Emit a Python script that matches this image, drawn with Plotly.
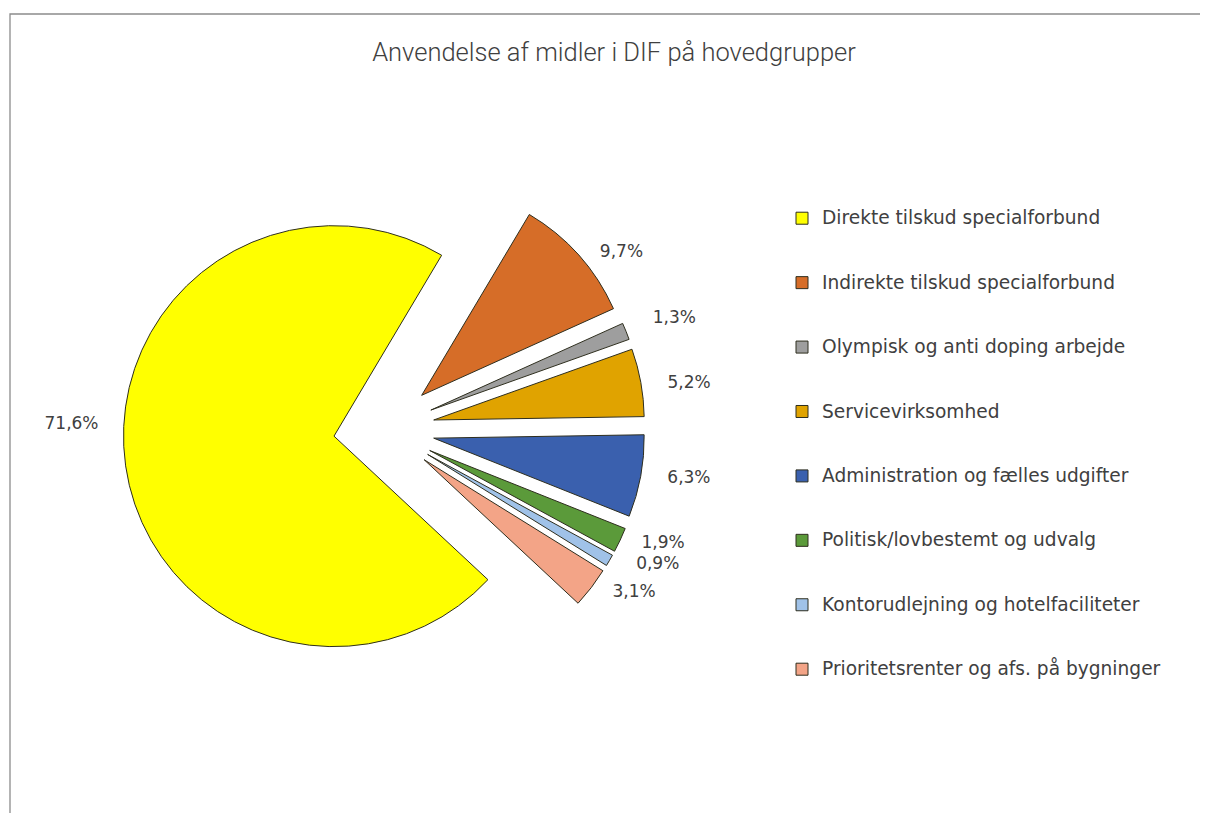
import plotly.graph_objects as go

categories = [
    "Direkte tilskud specialforbund",
    "Indirekte tilskud specialforbund",
    "Olympisk og anti doping arbejde",
    "Servicevirksomhed",
    "Administration og fælles udgifter",
    "Politisk/lovbestemt og udvalg",
    "Kontorudlejning og hotelfaciliteter",
    "Prioritetsrenter og afs. på bygninger",
]
shares = [71.6, 9.7, 1.3, 5.2, 6.3, 1.9, 0.9, 3.1]
colors = ["#FFFF00", "#D66D28", "#9E9E9E", "#E0A300",
          "#3A60AE", "#5B9A3A", "#A0C2E8", "#F3A487"]

# page area (plotly fills the window minus the 8px body margin)
OX, OY, W, H = 8, 8, 1192, 805


def px(x):
    return (x - OX) / W


def py(y):
    return 1 - (y - OY) / H


NB = "\u00a0"
P = "%{percent:.1%}"
UP = "<br>" + NB          # blank line below the label (moves it up)
# label padding keeps the percentages a little away from the slices
templates = [
    P + UP * 4,
    NB * 3 + P,
    NB * 3 + P + UP,
    NB * 4 + P,
    NB * 4 + P,
    NB * 3 + P,
    NB * 4 + P,
    NB * 3 + P,
]

fig = go.Figure(go.Pie(
    labels=[f"<br><span style='font-size:18.6px'>{c}</span><br> " for c in categories],
    values=shares,
    sort=False,
    direction="clockwise",
    rotation=133,
    pull=0.24,
    marker=dict(colors=colors, line=dict(color="#2E2E1E", width=1)),
    texttemplate=templates,
    textposition="outside",
    outsidetextfont=dict(family="DejaVu Sans", size=17, color="#404040"),
    hoverinfo="percent",
    domain=dict(x=[px(123), px(645)], y=[py(690), py(168)]),
))

fig.update_layout(
    autosize=True,
    margin=dict(l=0, r=0, t=0, b=0, autoexpand=False),
    paper_bgcolor="white",
    separators=", ",
    title=dict(
        text="Anvendelse af midler i DIF på hovedgrupper",
        x=px(614), xanchor="center", y=py(52), yanchor="middle",
        font=dict(family="Roboto", size=25.5, color="#404040", weight=300),
    ),
    legend=dict(
        x=px(782), xanchor="left", y=py(181), yanchor="top",
        font=dict(family="DejaVu Sans", size=15.75, color="#404040"),
        itemwidth=30, tracegroupgap=0,
        bgcolor="rgba(0,0,0,0)",
    ),
    shapes=[dict(type="rect", xref="paper", yref="paper",
                 x0=px(10), x1=1.05, y0=-0.05, y1=py(14),
                 line=dict(color="#8C8C8C", width=1.3))],
)

fig.write_html("out.html")
